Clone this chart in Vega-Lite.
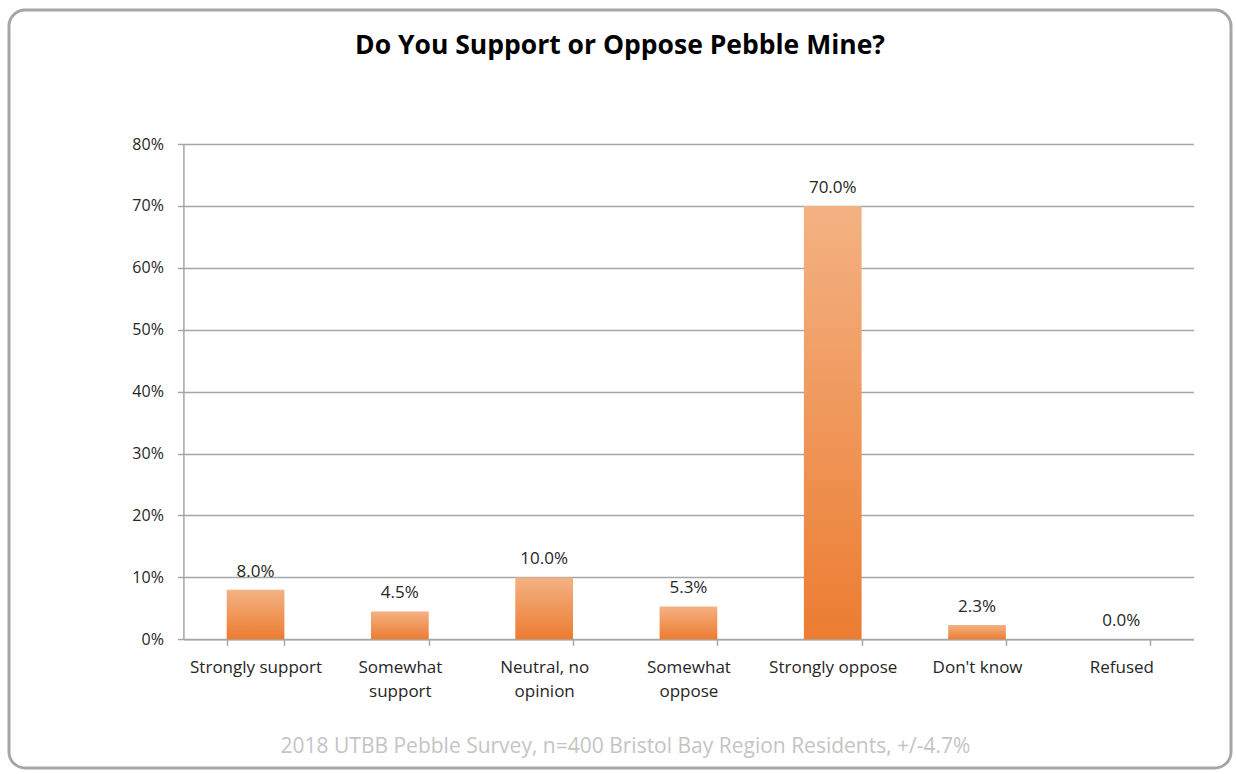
{
  "$schema": "https://vega.github.io/schema/vega-lite/v6.json",
  "width": 1222,
  "height": 758,
  "autosize": {"type": "none"},
  "padding": {"left": 9, "top": 10, "right": 5, "bottom": 6},
  "background": "white",
  "config": {
    "font": "Open Sans",
    "view": {"stroke": "#a6a6a6", "strokeWidth": 3, "cornerRadius": 16, "fill": "white"}
  },
  "title": {
    "text": "Do You Support or Oppose Pebble Mine?",
    "frame": "group",
    "anchor": "middle",
    "font": "Open Sans",
    "fontSize": 26.5,
    "fontWeight": "bold",
    "color": "#000000",
    "offset": -49
  },
  "data": {
    "values": [
      {"response": "Strongly support", "pct": 0.08},
      {"response": "Somewhat support", "pct": 0.045},
      {"response": "Neutral, no opinion", "pct": 0.10},
      {"response": "Somewhat oppose", "pct": 0.053},
      {"response": "Strongly oppose", "pct": 0.70},
      {"response": "Don't know", "pct": 0.023},
      {"response": "Refused", "pct": 0.0}
    ]
  },
  "encoding": {
    "x": {
      "field": "response",
      "type": "nominal",
      "sort": null,
      "scale": {"range": [174.4, 1184.5], "paddingInner": 0.6, "paddingOuter": 0.3},
      "axis": {
        "orient": "bottom",
        "offset": -128.7,
        "domain": true,
        "domainColor": "#a6a6a6",
        "domainWidth": 1.5,
        "ticks": true,
        "tickBand": "extent",
        "tickSize": 6,
        "tickColor": "#a6a6a6",
        "tickWidth": 1.5,
        "grid": false,
        "labelAngle": 0,
        "labelFontSize": 17,
        "labelColor": "#262626",
        "labelBaseline": "top",
        "labelPadding": 14.5,
        "labelLineHeight": 24,
        "labelExpr": "datum.value == 'Somewhat support' ? ['Somewhat', 'support'] : datum.value == 'Neutral, no opinion' ? ['Neutral, no', 'opinion'] : datum.value == 'Somewhat oppose' ? ['Somewhat', 'oppose'] : datum.value",
        "title": "2018 UTBB Pebble Survey, n=400 Bristol Bay Region Residents, +/-4.7%",
        "titleX": 616,
        "titleY": 113,
        "titleAlign": "center",
        "titleBaseline": "alphabetic",
        "titleFontSize": 21,
        "titleFontWeight": "normal",
        "titleColor": "#c4c4c4"
      }
    },
    "y": {
      "field": "pct",
      "type": "quantitative",
      "scale": {"domain": [0, 0.8], "range": [629.3, 134], "nice": false, "zero": true},
      "axis": {
        "orient": "left",
        "offset": -174.4,
        "values": [0, 0.1, 0.2, 0.3, 0.4, 0.5, 0.6, 0.7, 0.8],
        "format": ".0%",
        "grid": true,
        "gridColor": "#a6a6a6",
        "gridWidth": 1.5,
        "domain": true,
        "domainColor": "#a6a6a6",
        "domainWidth": 1.5,
        "tickSize": 6,
        "tickColor": "#a6a6a6",
        "tickWidth": 1.5,
        "labelFontSize": 16,
        "labelColor": "#262626",
        "labelPadding": 14,
        "title": null
      }
    }
  },
  "layer": [
    {
      "mark": {
        "type": "bar",
        "color": {
          "gradient": "linear",
          "x1": 0, "y1": 0, "x2": 0, "y2": 1,
          "stops": [
            {"offset": 0, "color": "#f3b283"},
            {"offset": 1, "color": "#ec7c31"}
          ]
        }
      }
    },
    {
      "mark": {"type": "text", "dy": -13, "baseline": "alphabetic", "fontSize": 17, "color": "#262626"},
      "encoding": {
        "text": {"field": "pct", "type": "quantitative", "format": ".1%"}
      }
    }
  ]
}
